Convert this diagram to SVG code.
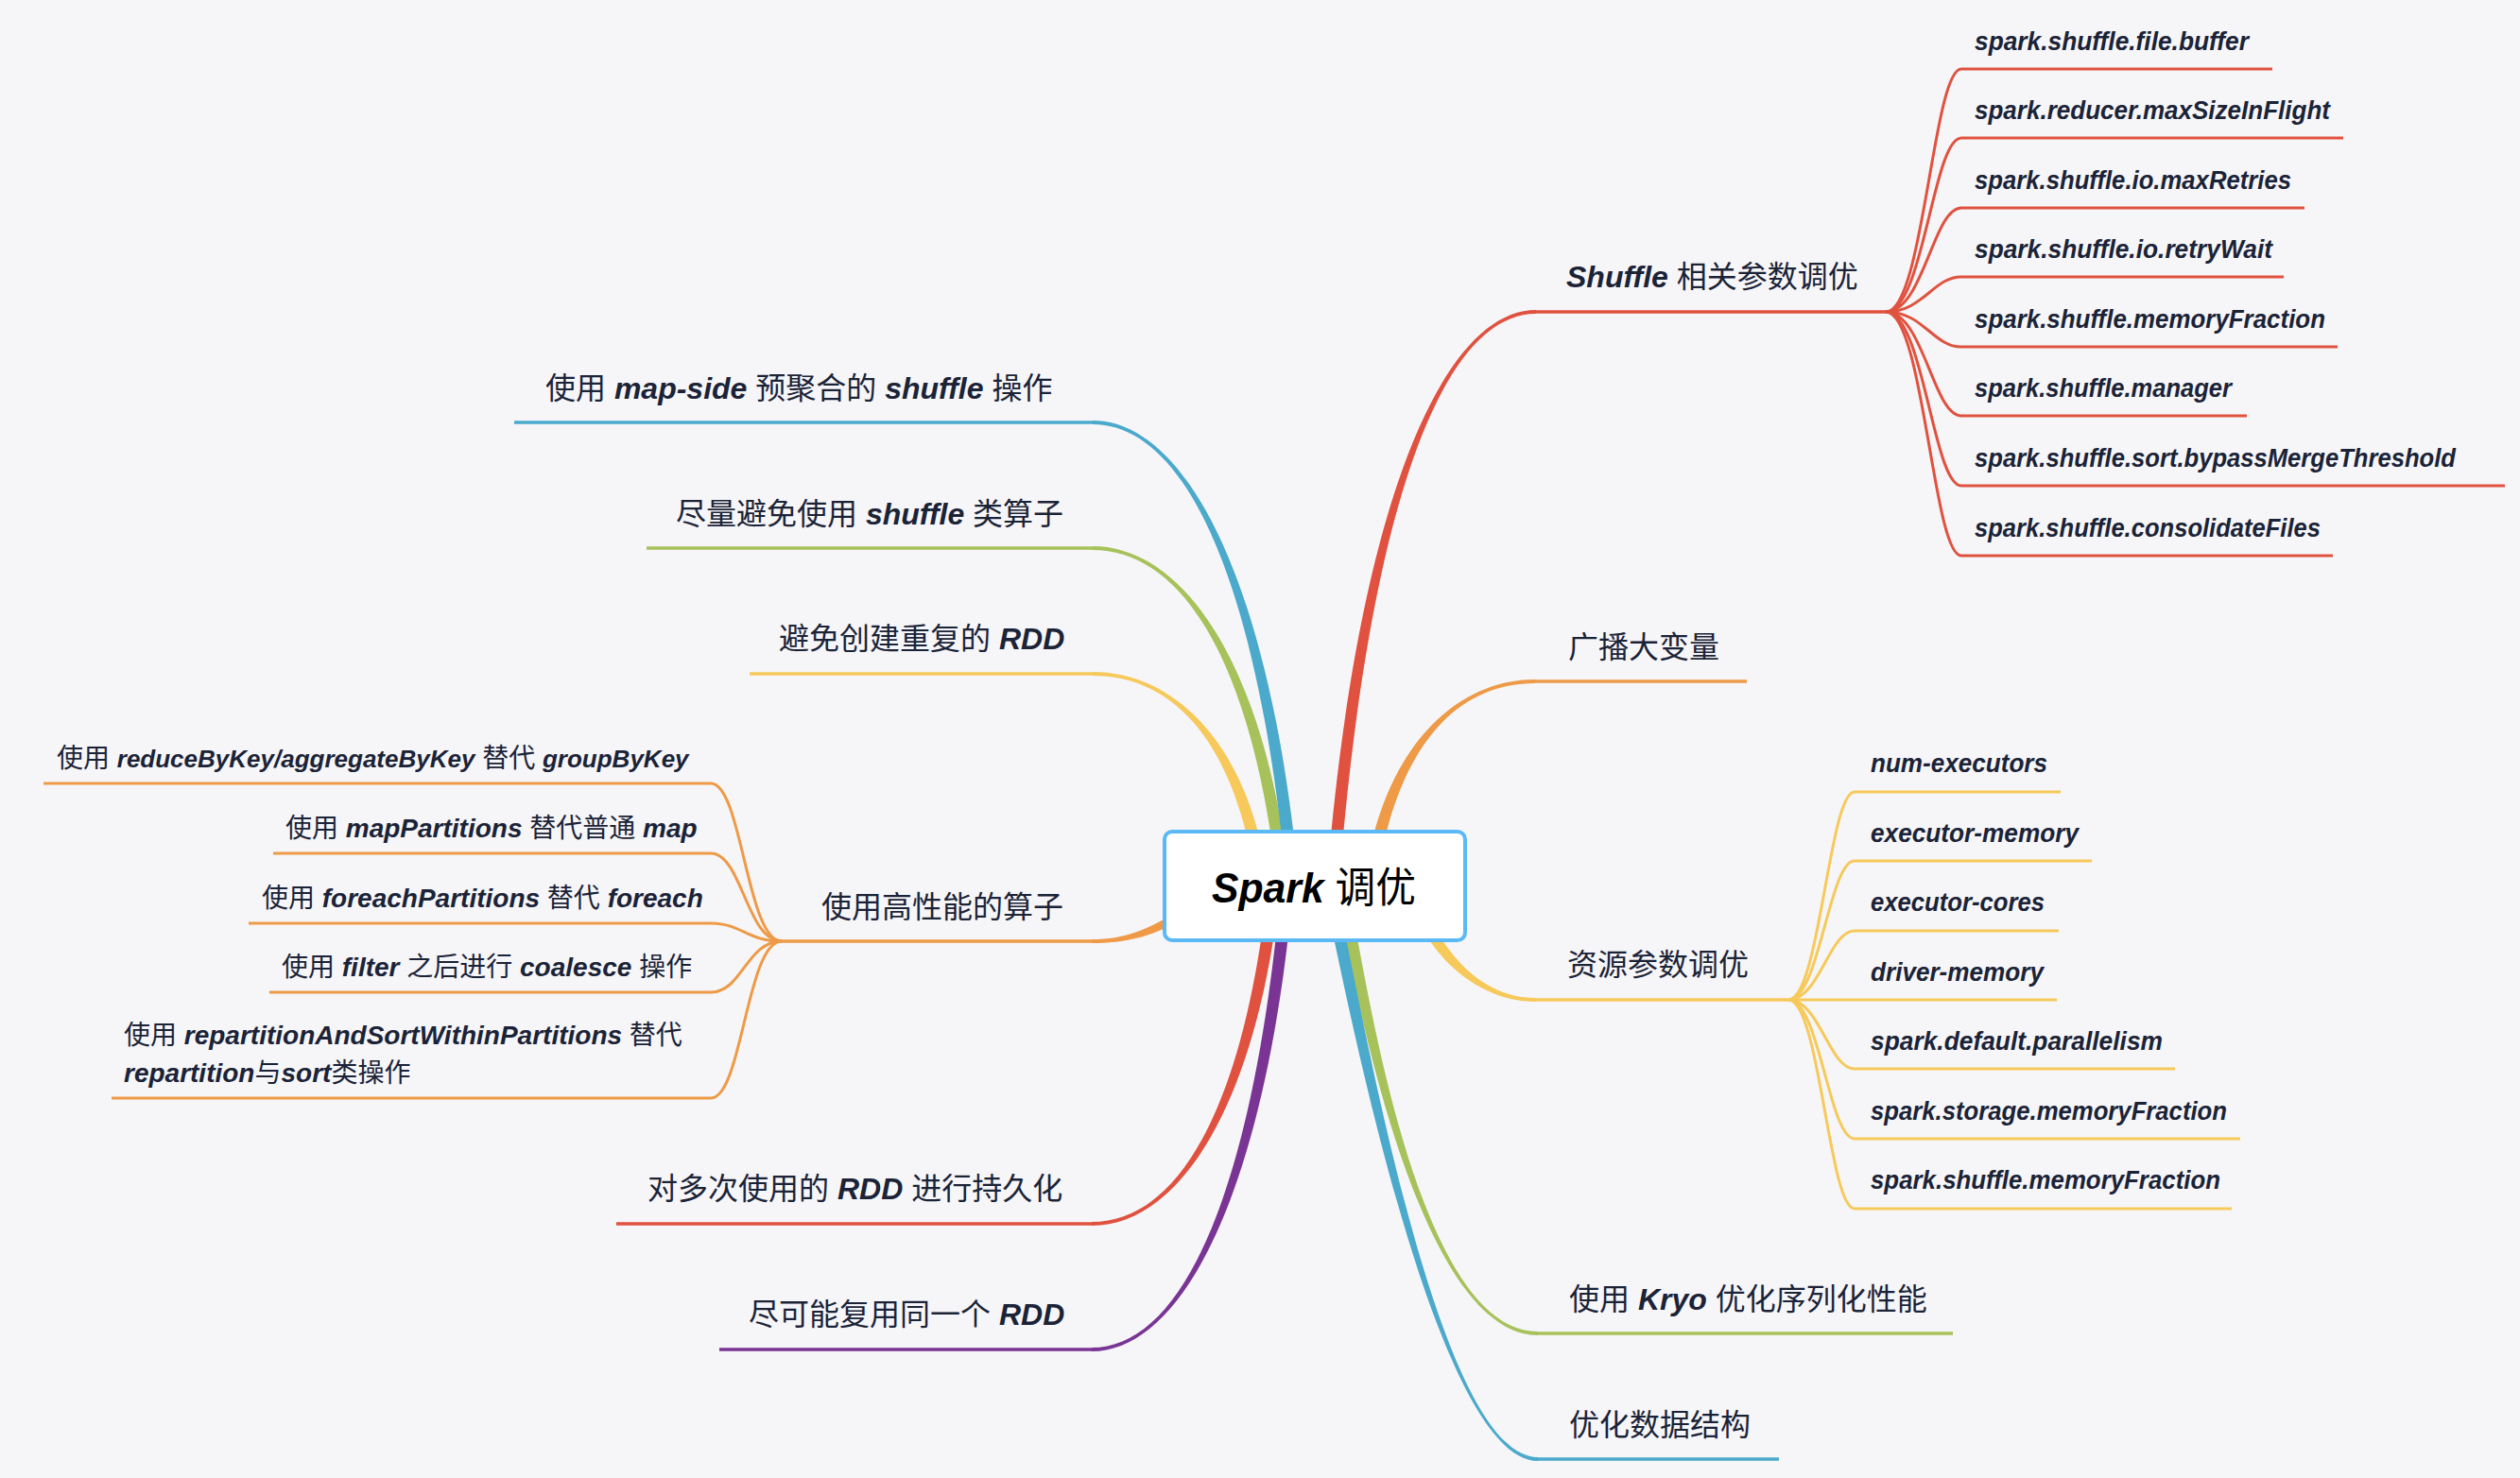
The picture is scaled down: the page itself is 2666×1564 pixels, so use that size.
<svg xmlns="http://www.w3.org/2000/svg" width="2666" height="1564" viewBox="0 0 2666 1564">
<style>
.t{font-family:"Liberation Sans","Noto Sans CJK SC",sans-serif;fill:#1b2337}
.m{font-size:32px}
.s{font-size:28px}
.p{font-size:27px;font-style:italic;font-weight:bold}
.l{font-style:italic;font-weight:bold}
.l26{font-size:26px}
.ul{fill:none;stroke-width:3.5;stroke-linecap:butt}
.sb{fill:none;stroke-width:3}
.red{stroke:#E0523F}.fred{fill:#E0523F}
.org{stroke:#EE9A47}.forg{fill:#EE9A47}
.yel{stroke:#F6C95A}.fyel{fill:#F6C95A}
.grn{stroke:#A7C25A}.fgrn{fill:#A7C25A}
.blu{stroke:#4BA9CC}.fblu{fill:#4BA9CC}
.pur{stroke:#7A3594}.fpur{fill:#7A3594}
</style>
<rect x="0" y="0" width="2666" height="1564" fill="#F6F6F9"/>
<g id="connectors">
  <path class="fyel" d="M1156 711 C1233 711 1305 772 1333.5 890 L1320.5 890 C1293 772 1233 715 1156 715 Z"/>
  <path class="fgrn" d="M1156 578 C1245 578 1327 686 1358.5 890 L1345.5 890 C1315 686 1245 582 1156 582 Z"/>
  <path class="fblu" d="M1156 445 C1250 445 1336 600 1369.5 890 L1356.5 890 C1324 600 1250 449 1156 449 Z"/>
  <path class="fred" d="M1625 328 C1529 328 1442 524 1407.5 890 L1420.5 890 C1454 524 1529 332 1625 332 Z"/>
  <path class="forg" d="M1624 719 C1549 719 1479 777 1451.5 890 L1464.5 890 C1491 777 1549 723 1624 723 Z"/>
  <path class="fyel" d="M1625 1056 C1575 1056 1540 1022 1515 977 L1505 983 C1530 1028 1575 1060 1625 1060 Z"/>
  <path class="forg" d="M1155 994 C1190 994 1213 984 1247.5 963.7 L1252.5 972.3 C1217 992 1190 998 1155 998 Z"/>
  <path class="fred" d="M1155 1293 C1240 1293 1306 1189 1335.5 985 L1348.5 985 C1318 1189 1240 1297 1155 1297 Z"/>
  <path class="fpur" d="M1155 1426 C1247 1426 1319 1275 1350.5 985 L1363.5 985 C1331 1275 1247 1430 1155 1430 Z"/>
  <path class="fgrn" d="M1627 1409 C1510 1409 1456 1100 1434.5 985 L1421.5 985 C1444 1100 1510 1413 1627 1413 Z"/>
  <path class="fblu" d="M1627 1542 C1530 1542 1456 1150 1422.5 985 L1409.5 985 C1444 1150 1530 1546 1627 1546 Z"/>
  <path class="ul blu" d="M544 447 H1157"/>
  <path class="ul grn" d="M684 580 H1157"/>
  <path class="ul yel" d="M793 713 H1157"/>
  <path class="ul org" d="M827 996 H1156"/>
  <path class="ul red" d="M652 1295 H1156"/>
  <path class="ul pur" d="M761 1428 H1156"/>
  <path class="ul red" d="M1624 330 H1995"/>
  <path class="ul org" d="M1623 721 H1848"/>
  <path class="ul yel" d="M1624 1058 H1892"/>
  <path class="ul grn" d="M1626 1411 H2066"/>
  <path class="ul blu" d="M1626 1544 H1882"/>
  <path class="sb red" d="M1995 330 C2035 330 2045 73 2075 73 H2404"/>
  <path class="sb red" d="M1995 330 C2035 330 2045 146 2075 146 H2479"/>
  <path class="sb red" d="M1995 330 C2035 330 2045 220 2075 220 H2438"/>
  <path class="sb red" d="M1995 330 C2035 330 2045 293 2075 293 H2416"/>
  <path class="sb red" d="M1995 330 C2035 330 2045 367 2075 367 H2473"/>
  <path class="sb red" d="M1995 330 C2035 330 2045 440 2075 440 H2377"/>
  <path class="sb red" d="M1995 330 C2035 330 2045 514 2075 514 H2650"/>
  <path class="sb red" d="M1995 330 C2035 330 2045 588 2075 588 H2468"/>
  <path class="sb yel" d="M1892 1058 C1925 1058 1935 838 1962 838 H2180"/>
  <path class="sb yel" d="M1892 1058 C1925 1058 1935 911 1962 911 H2213"/>
  <path class="sb yel" d="M1892 1058 C1925 1058 1935 985 1962 985 H2178"/>
  <path class="sb yel" d="M1892 1058 H2176"/>
  <path class="sb yel" d="M1892 1058 C1925 1058 1935 1131 1962 1131 H2301"/>
  <path class="sb yel" d="M1892 1058 C1925 1058 1935 1205 1962 1205 H2370"/>
  <path class="sb yel" d="M1892 1058 C1925 1058 1935 1279 1962 1279 H2361"/>
  <path class="sb org" d="M827 996 C790 996 785 829 752 829 H46"/>
  <path class="sb org" d="M827 996 C790 996 785 903 752 903 H289"/>
  <path class="sb org" d="M827 996 C790 996 785 977 752 977 H263"/>
  <path class="sb org" d="M827 996 C790 996 785 1050 752 1050 H285"/>
  <path class="sb org" d="M827 996 C790 996 785 1162 752 1162 H118"/>
</g>
<g id="root">
  <rect x="1232" y="880" width="318" height="115" rx="8" fill="#ffffff" stroke="#5BB9F5" stroke-width="4"/>
  <text class="t" x="1282" y="955" font-size="44" style="fill:#000" textLength="216" lengthAdjust="spacingAndGlyphs"><tspan class="l">Spark</tspan> 调优</text>
</g>
<g id="n-mapside"><text class="t m" x="577" y="422">使用 <tspan class="l">map-side</tspan> 预聚合的 <tspan class="l">shuffle</tspan> 操作</text></g>
<g id="n-avoid-shuffle"><text class="t m" x="715" y="555">尽量避免使用 <tspan class="l">shuffle</tspan> 类算子</text></g>
<g id="n-avoid-rdd"><text class="t m" x="824" y="687">避免创建重复的 <tspan class="l">RDD</tspan></text></g>
<g id="n-operators"><text class="t m" x="869" y="971">使用高性能的算子</text></g>
<g id="n-op1"><text class="t s" x="60" y="812">使用 <tspan class="l l26">reduceByKey/aggregateByKey</tspan> 替代 <tspan class="l l26">groupByKey</tspan></text></g>
<g id="n-op2"><text class="t s" x="302" y="886">使用 <tspan class="l">mapPartitions</tspan> 替代普通 <tspan class="l">map</tspan></text></g>
<g id="n-op3"><text class="t s" x="277" y="960">使用 <tspan class="l">foreachPartitions</tspan> 替代 <tspan class="l">foreach</tspan></text></g>
<g id="n-op4"><text class="t s" x="298" y="1033">使用 <tspan class="l">filter</tspan> 之后进行 <tspan class="l">coalesce</tspan> 操作</text></g>
<g id="n-op5"><text class="t s"><tspan x="131" y="1105">使用 <tspan class="l">repartitionAndSortWithinPartitions</tspan> 替代</tspan><tspan x="131" y="1145"><tspan class="l">repartition</tspan>与<tspan class="l">sort</tspan>类操作</tspan></text></g>
<g id="n-persist"><text class="t m" x="685" y="1269">对多次使用的 <tspan class="l">RDD</tspan> 进行持久化</text></g>
<g id="n-reuse"><text class="t m" x="792" y="1402">尽可能复用同一个 <tspan class="l">RDD</tspan></text></g>
<g id="n-shuffle"><text class="t m" x="1657" y="304"><tspan class="l">Shuffle</tspan> 相关参数调优</text></g>
<g id="n-sh1"><text class="t p" x="2089" y="53" textLength="290" lengthAdjust="spacingAndGlyphs">spark.shuffle.file.buffer</text></g>
<g id="n-sh2"><text class="t p" x="2089" y="126" textLength="376" lengthAdjust="spacingAndGlyphs">spark.reducer.maxSizeInFlight</text></g>
<g id="n-sh3"><text class="t p" x="2089" y="200" textLength="335" lengthAdjust="spacingAndGlyphs">spark.shuffle.io.maxRetries</text></g>
<g id="n-sh4"><text class="t p" x="2089" y="273" textLength="315" lengthAdjust="spacingAndGlyphs">spark.shuffle.io.retryWait</text></g>
<g id="n-sh5"><text class="t p" x="2089" y="347" textLength="371" lengthAdjust="spacingAndGlyphs">spark.shuffle.memoryFraction</text></g>
<g id="n-sh6"><text class="t p" x="2089" y="420" textLength="272" lengthAdjust="spacingAndGlyphs">spark.shuffle.manager</text></g>
<g id="n-sh7"><text class="t p" x="2089" y="494" textLength="509" lengthAdjust="spacingAndGlyphs">spark.shuffle.sort.bypassMergeThreshold</text></g>
<g id="n-sh8"><text class="t p" x="2089" y="568" textLength="366" lengthAdjust="spacingAndGlyphs">spark.shuffle.consolidateFiles</text></g>
<g id="n-broadcast"><text class="t m" x="1659" y="696">广播大变量</text></g>
<g id="n-resource"><text class="t m" x="1658" y="1032">资源参数调优</text></g>
<g id="n-r1"><text class="t p" x="1979" y="817" textLength="187" lengthAdjust="spacingAndGlyphs">num-executors</text></g>
<g id="n-r2"><text class="t p" x="1979" y="891" textLength="220" lengthAdjust="spacingAndGlyphs">executor-memory</text></g>
<g id="n-r3"><text class="t p" x="1979" y="964" textLength="184" lengthAdjust="spacingAndGlyphs">executor-cores</text></g>
<g id="n-r4"><text class="t p" x="1979" y="1038" textLength="183" lengthAdjust="spacingAndGlyphs">driver-memory</text></g>
<g id="n-r5"><text class="t p" x="1979" y="1111" textLength="309" lengthAdjust="spacingAndGlyphs">spark.default.parallelism</text></g>
<g id="n-r6"><text class="t p" x="1979" y="1185" textLength="377" lengthAdjust="spacingAndGlyphs">spark.storage.memoryFraction</text></g>
<g id="n-r7"><text class="t p" x="1979" y="1258" textLength="370" lengthAdjust="spacingAndGlyphs">spark.shuffle.memoryFraction</text></g>
<g id="n-kryo"><text class="t m" x="1660" y="1386">使用 <tspan class="l">Kryo</tspan> 优化序列化性能</text></g>
<g id="n-datastruct"><text class="t m" x="1660" y="1519">优化数据结构</text></g>
</svg>
